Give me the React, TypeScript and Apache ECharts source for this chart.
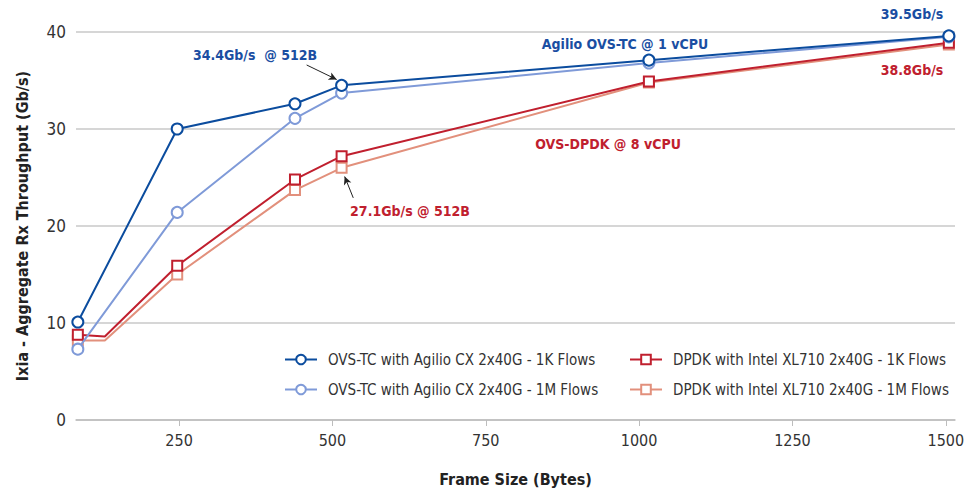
import React, { useEffect, useRef } from "react";
import * as echarts from "echarts";

const frameSizes = [85, 129, 247, 439, 515, 1016, 1505];
const ovs1K = [10.1, null, 30.0, 32.6, 34.5, 37.1, 39.6];
const ovs1M = [7.3, null, 21.4, 31.1, 33.7, 36.8, 39.5];
const dpdk1K = [8.8, 8.6, 15.9, 24.8, 27.2, 34.9, 38.9];
const dpdk1M = [8.2, 8.2, 15.0, 23.7, 26.0, 34.8, 38.7];
const noMarkerSizes = [129];
const xTicks = [250, 500, 750, 1000, 1250, 1500];
const seriesNames = [
  "OVS-TC with Agilio CX 2x40G - 1K Flows",
  "OVS-TC with Agilio CX 2x40G - 1M Flows",
  "DPDK with Intel XL710 2x40G - 1K Flows",
  "DPDK with Intel XL710 2x40G - 1M Flows",
];

const FONT = "'Liberation Sans Narrow', 'DejaVu Sans Condensed', Roboto, sans-serif";
const BLUE = "#0b4c9e";
const LBLUE = "#7f9ad8";
const RED = "#c01f2e";
const LRED = "#e2907c";
const BLUE_TXT = "#1a4ea2";
const RED_TXT = "#c0202e";

function pairs(vals: (number | null)[]) {
  return frameSizes.map((x, i) =>
    noMarkerSizes.includes(x)
      ? { value: [x, vals[i]], symbol: "none" }
      : { value: [x, vals[i]] }
  );
}

export default function App() {
  const ref = useRef<HTMLDivElement>(null);
  useEffect(() => {
    const chart = echarts.init(ref.current!, undefined, { renderer: "svg" });
    const mkSeries = (name: string, vals: (number | null)[], color: string, symbol: string, size: number, z: number) => ({
      name,
      type: "line",
      data: pairs(vals),
      connectNulls: true,
      symbol,
      symbolSize: size,
      showAllSymbol: true,
      z,
      lineStyle: { color, width: 2 },
      itemStyle: { color: "#fff", borderColor: color, borderWidth: 2 },
    });
    const s1: any = mkSeries(seriesNames[0], ovs1K, BLUE, "circle", 11, 5);
    const s2: any = mkSeries(seriesNames[1], ovs1M, LBLUE, "circle", 11, 4);
    const s3: any = mkSeries(seriesNames[2], dpdk1K, RED, "rect", 10, 3);
    const s4: any = mkSeries(seriesNames[3], dpdk1M, LRED, "rect", 10, 2);
    const arrowLine = (from: number[], to: number[]) => ({
      silent: true,
      symbol: ["none", "arrow"],
      symbolSize: [6, 8],
      label: { show: false },
      lineStyle: { color: "#222", width: 1, type: "solid" },
      data: [[{ coord: from }, { coord: to }]],
    });
    s1.markLine = arrowLine([458, 36.6], [507, 35.1]);
    s3.markLine = arrowLine([534, 22.9], [520, 25.1]);

    const txt = (text: string, x: number, y: number, color: string) => ({
      type: "text",
      x,
      y,
      style: {
        text,
        fill: color,
        font: `bold 14px ${FONT}`,
        align: "center",
        verticalAlign: "middle",
      },
    });

    chart.setOption({
      animation: false,
      backgroundColor: "#fff",
      grid: { left: 76, right: 17, top: 32, bottom: 75, containLabel: false },
      legend: [
        {
          data: [seriesNames[0], seriesNames[1]],
          orient: "vertical",
          left: 279,
          top: 347,
          itemWidth: 32,
          itemHeight: 12,
          itemGap: 15,
          textStyle: { fontFamily: FONT, fontSize: 15, color: "#333", padding: [0, 0, 0, 6] },
        },
        {
          data: [seriesNames[2], seriesNames[3]],
          orient: "vertical",
          left: 624,
          top: 347,
          itemWidth: 32,
          itemHeight: 12,
          itemGap: 15,
          textStyle: { fontFamily: FONT, fontSize: 15, color: "#333", padding: [0, 0, 0, 6] },
        },
      ],
      xAxis: {
        type: "value",
        min: 82,
        max: 1515,
        name: "Frame Size (Bytes)",
        nameLocation: "middle",
        nameGap: 51,
        nameTextStyle: { fontFamily: FONT, fontSize: 16, fontWeight: "bold", color: "#222" },
        axisLine: { show: true, lineStyle: { color: "#bdbdbd", width: 1.5 } },
        axisTick: { show: true, length: 6, lineStyle: { color: "#bdbdbd" }, customValues: xTicks },
        axisLabel: {
          fontFamily: FONT,
          fontSize: 16,
          color: "#333",
          margin: 12,
          customValues: xTicks,
          formatter: (v: number) => String(v),
        },
        splitLine: { show: false },
      },
      yAxis: {
        type: "value",
        min: 0,
        max: 40,
        interval: 10,
        name: "Ixia - Aggregate Rx Throughput (Gb/s)",
        nameLocation: "middle",
        nameGap: 46,
        nameTextStyle: { fontFamily: FONT, fontSize: 16, fontWeight: "bold", color: "#222" },
        axisLine: { show: false },
        axisTick: { show: false },
        axisLabel: { fontFamily: FONT, fontSize: 17, color: "#333", margin: 10 },
        splitLine: { show: true, lineStyle: { color: "#c8c8c8", width: 1.5 } },
      },
      series: [s1, s2, s3, s4],
      graphic: [
        txt("34.4Gb/s  @ 512B", 255, 55, BLUE_TXT),
        txt("Agilio OVS-TC @ 1 vCPU", 625, 44, BLUE_TXT),
        txt("39.5Gb/s", 912, 14, BLUE_TXT),
        txt("38.8Gb/s", 912, 70, RED_TXT),
        txt("OVS-DPDK @ 8 vCPU", 608, 144, RED_TXT),
        txt("27.1Gb/s @ 512B", 410, 211, RED_TXT),
      ],
    });
    return () => chart.dispose();
  }, []);
  return <div ref={ref} style={{ width: 972, height: 495, position: "absolute", left: 0, top: 0 }} />;
}
